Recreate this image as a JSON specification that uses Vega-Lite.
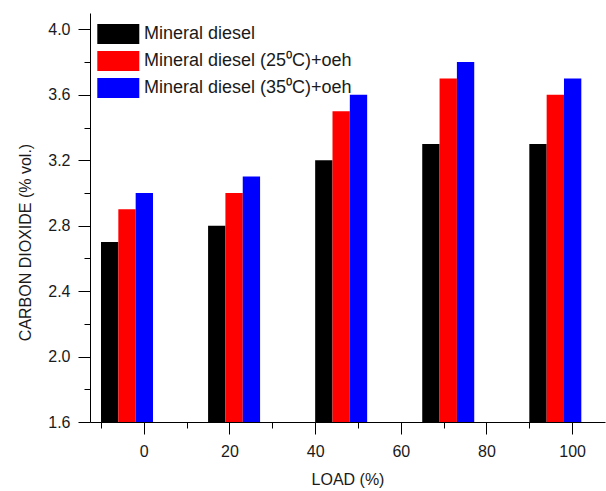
{
  "$schema": "https://vega.github.io/schema/vega-lite/v6.json",
  "width": 515,
  "height": 409,
  "autosize": {"type": "none"},
  "padding": {"left": 90, "top": 13, "right": 1, "bottom": 69},
  "background": "white",
  "config": {
    "view": {"stroke": null},
    "font": "Liberation Sans",
    "axis": {
      "grid": false,
      "domainColor": "#000000",
      "domainWidth": 1,
      "tickColor": "#000000",
      "tickWidth": 1,
      "labelColor": "#1a1a1a",
      "titleColor": "#1a1a1a",
      "labelFont": "Liberation Sans",
      "titleFont": "Liberation Sans",
      "labelFontSize": 16,
      "titleFontSize": 16,
      "titleFontWeight": "normal"
    },
    "legend": {
      "labelFont": "Liberation Sans",
      "labelFontSize": 18,
      "labelColor": "#1a1a1a"
    }
  },
  "data": {
    "values": [
      {"load": 0, "fuel": "Mineral diesel", "co2": 2.7},
      {"load": 0, "fuel": "Mineral diesel (25⁰C)+oeh", "co2": 2.9},
      {"load": 0, "fuel": "Mineral diesel (35⁰C)+oeh", "co2": 3.0},
      {"load": 25, "fuel": "Mineral diesel", "co2": 2.8},
      {"load": 25, "fuel": "Mineral diesel (25⁰C)+oeh", "co2": 3.0},
      {"load": 25, "fuel": "Mineral diesel (35⁰C)+oeh", "co2": 3.1},
      {"load": 50, "fuel": "Mineral diesel", "co2": 3.2},
      {"load": 50, "fuel": "Mineral diesel (25⁰C)+oeh", "co2": 3.5},
      {"load": 50, "fuel": "Mineral diesel (35⁰C)+oeh", "co2": 3.6},
      {"load": 75, "fuel": "Mineral diesel", "co2": 3.3},
      {"load": 75, "fuel": "Mineral diesel (25⁰C)+oeh", "co2": 3.7},
      {"load": 75, "fuel": "Mineral diesel (35⁰C)+oeh", "co2": 3.8},
      {"load": 100, "fuel": "Mineral diesel", "co2": 3.3},
      {"load": 100, "fuel": "Mineral diesel (25⁰C)+oeh", "co2": 3.6},
      {"load": 100, "fuel": "Mineral diesel (35⁰C)+oeh", "co2": 3.7}
    ]
  },
  "resolve": {
    "scale": {"x": "independent"},
    "axis": {"x": "independent", "y": "independent"}
  },
  "layer": [
    {
      "mark": {"type": "bar"},
      "encoding": {
        "x": {
          "field": "load",
          "type": "nominal",
          "scale": {
            "type": "band",
            "domain": [0, 25, 50, 75, 100],
            "paddingInner": 0.5144,
            "paddingOuter": 0.16195,
            "align": 0.3172,
            "round": false
          },
          "axis": null
        },
        "xOffset": {
          "field": "fuel",
          "type": "nominal",
          "scale": {
            "domain": ["Mineral diesel", "Mineral diesel (25⁰C)+oeh", "Mineral diesel (35⁰C)+oeh"],
            "paddingInner": 0,
            "paddingOuter": 0
          }
        },
        "y": {
          "field": "co2",
          "type": "quantitative",
          "scale": {"domain": [1.6, 4.1], "nice": false, "zero": false},
          "axis": {
            "orient": "left",
            "values": [1.6, 2.0, 2.4, 2.8, 3.2, 3.6, 4.0],
            "format": ".1f",
            "tickSize": 12,
            "labelPadding": 8,
            "title": "CARBON DIOXIDE (% vol.)",
            "titlePadding": 14,
            "titleY": 229
          }
        },
        "y2": {"datum": 1.6},
        "color": {
          "field": "fuel",
          "type": "nominal",
          "scale": {
            "domain": ["Mineral diesel", "Mineral diesel (25⁰C)+oeh", "Mineral diesel (35⁰C)+oeh"],
            "range": ["#000000", "#ff0000", "#0000ff"]
          },
          "legend": {
            "title": null,
            "orient": "none",
            "legendX": 18.3,
            "legendY": 11,
            "padding": 0,
            "symbolType": "M-2.1,-1H2.1V1H-2.1Z",
            "symbolSize": 400,
            "symbolStrokeWidth": 0,
            "symbolOpacity": 1,
            "labelOffset": 15.7,
            "rowPadding": 7,
            "labelLimit": 400
          }
        }
      }
    },
    {
      "mark": {"type": "point", "opacity": 0},
      "encoding": {
        "x": {
          "field": "load",
          "type": "quantitative",
          "scale": {"domain": [-12.56, 107.68], "nice": false, "zero": false},
          "axis": {
            "orient": "bottom",
            "values": [0, 20, 40, 60, 80, 100],
            "tickSize": 12,
            "labelPadding": 9,
            "title": "LOAD (%)",
            "titlePadding": 12
          }
        },
        "y": {"field": "co2", "type": "quantitative", "axis": null}
      }
    },
    {
      "mark": {"type": "point", "opacity": 0},
      "encoding": {
        "x": {
          "field": "load",
          "type": "quantitative",
          "scale": {"domain": [-12.56, 107.68], "nice": false, "zero": false},
          "axis": {
            "orient": "bottom",
            "values": [-10, 10, 30, 50, 70, 90],
            "tickSize": 6,
            "labels": false,
            "domain": false,
            "title": null
          }
        },
        "y": {
          "field": "co2",
          "type": "quantitative",
          "axis": {
            "orient": "left",
            "values": [1.8, 2.2, 2.6, 3.0, 3.4, 3.8],
            "tickSize": 6,
            "labels": false,
            "domain": false,
            "title": null
          }
        }
      }
    }
  ]
}
